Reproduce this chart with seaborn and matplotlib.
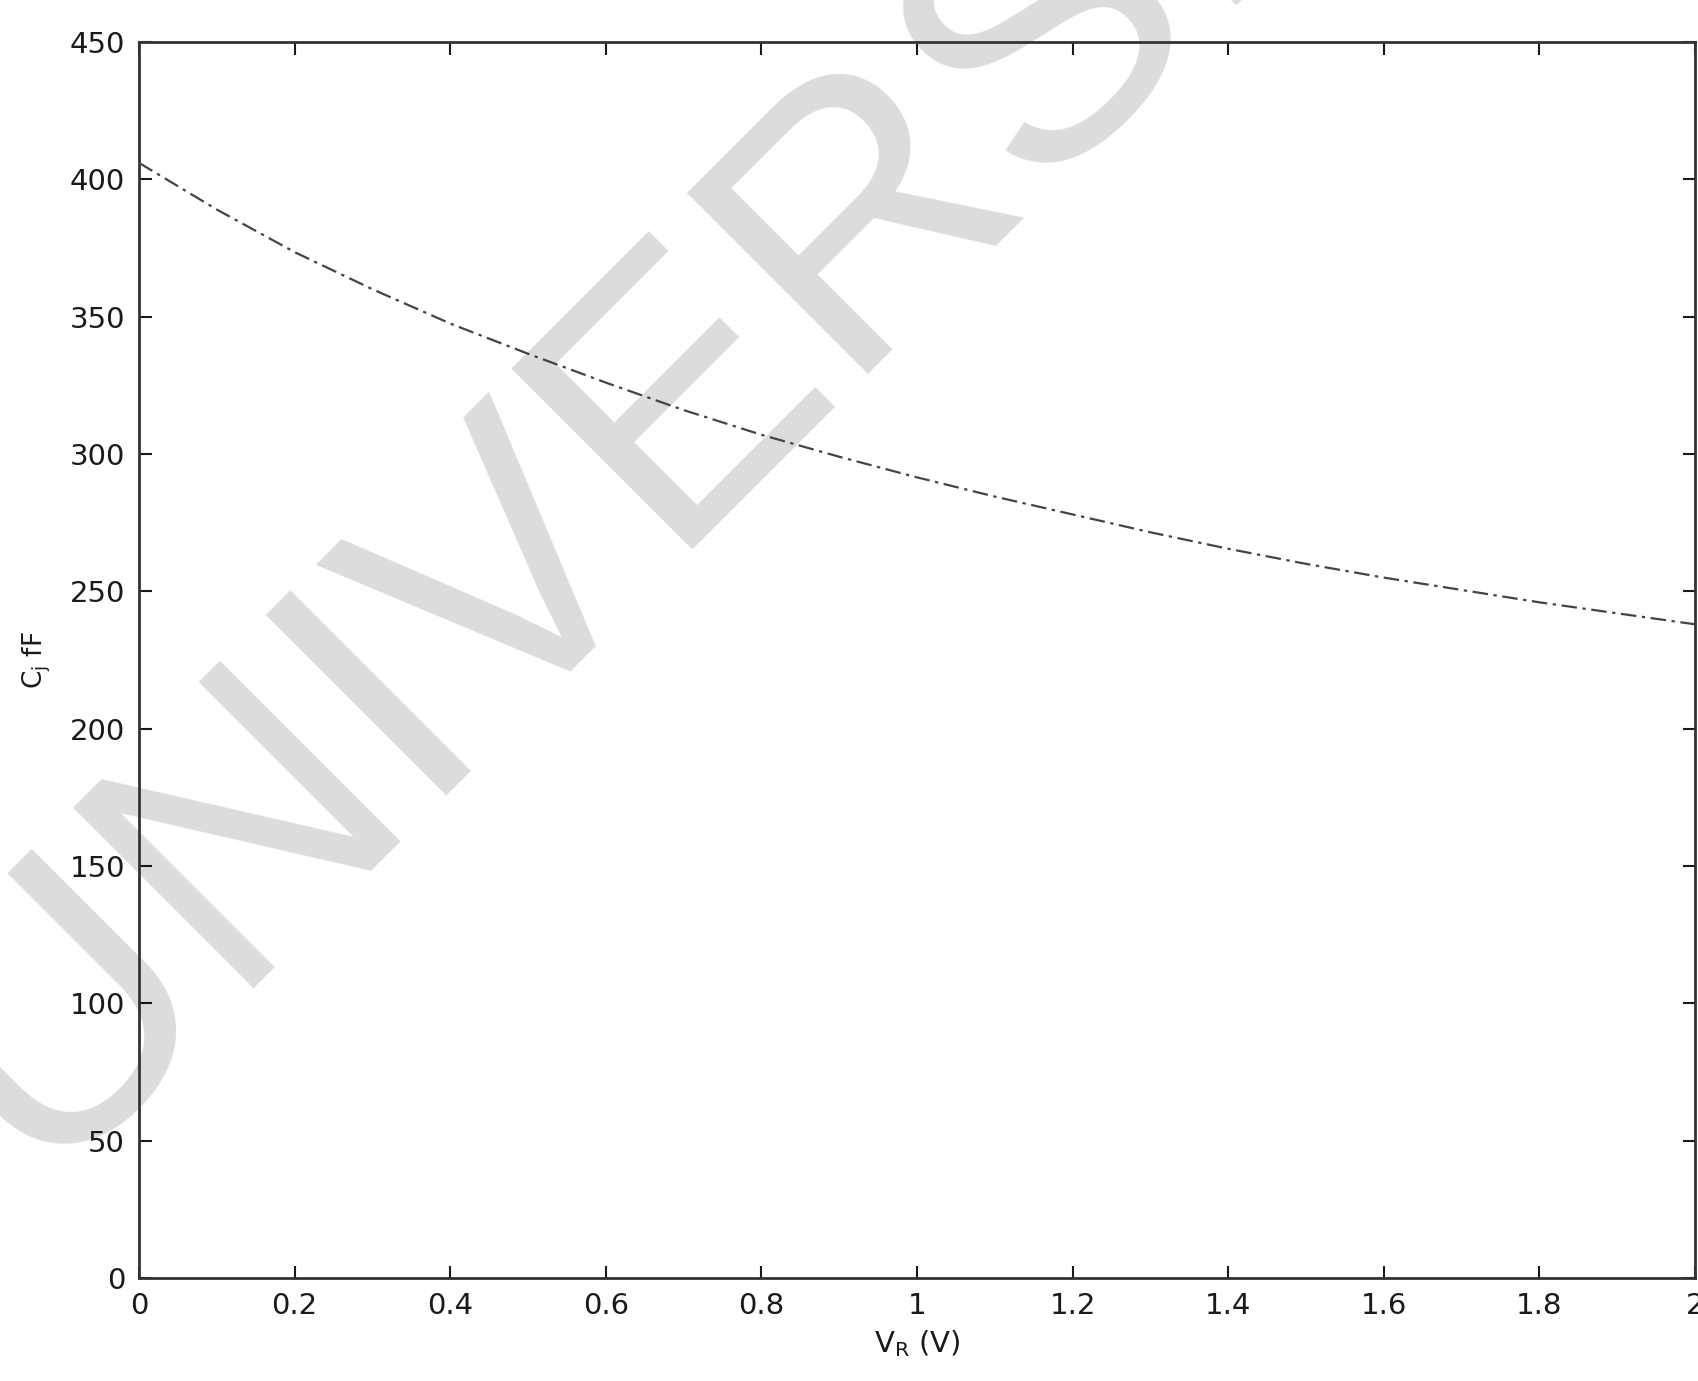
import numpy as np
import pandas as pd
import seaborn as sns
import matplotlib
matplotlib.use("Agg")
import matplotlib.pyplot as plt

# Data
vr = [0.0, 0.1, 0.2, 0.3, 0.4, 0.5, 0.6, 0.7, 0.8, 0.9, 1.0,
      1.1, 1.2, 1.3, 1.4, 1.5, 1.6, 1.7, 1.8, 1.9, 2.0]
cj = [406, 389, 373.5, 360, 347.5, 336.5, 326, 316, 307, 299, 291.5,
      284.5, 278, 271.5, 265.5, 260, 255, 250.5, 246, 242, 238]
x_ticks = [0, 0.2, 0.4, 0.6, 0.8, 1, 1.2, 1.4, 1.6, 1.8, 2]
x_tick_labels = ["0", "0.2", "0.4", "0.6", "0.8", "1", "1.2", "1.4", "1.6", "1.8", "2"]
y_ticks = [0, 50, 100, 150, 200, 250, 300, 350, 400, 450]

df = pd.DataFrame({"VR": vr, "Cj": cj})

sns.set_theme(style="ticks")
plt.rcParams['font.family'] = ['DejaVu Sans']

fig = plt.figure(figsize=(16.99, 13.81), dpi=100)
ax = fig.add_axes([139/1699, 1 - 1278/1381, (1695-139)/1699, (1278-42)/1381])
ax.set_facecolor('none')

# watermark (behind everything)
fig.text(0.020, 0.146, "UNIVERSITI", fontsize=268, color='#dcdcdc', rotation=45,
         rotation_mode='anchor', ha='left', va='baseline',
         family='Liberation Sans', zorder=-1)

sns.lineplot(data=df, x="VR", y="Cj", ax=ax, color='#444444', linewidth=1.6,
             zorder=3)
ax.lines[0].set_dashes([7, 2.5, 1.5, 2.5])

ax.set_xlim(0, 2)
ax.set_ylim(0, 450)
ax.set_xticks(x_ticks)
ax.set_xticklabels(x_tick_labels)
ax.set_yticks(y_ticks)
ax.tick_params(direction='in', length=9, width=1.5, top=True, right=True,
               labelsize=21, colors='#1a1a1a', pad=10)
for s in ax.spines.values():
    s.set_linewidth(2)
    s.set_color('#333333')
ax.set_xlabel(r"V$_\mathregular{R}$ (V)", fontsize=21, labelpad=6, color='#1a1a1a')
ax.set_ylabel(r"C$_\mathregular{j}$ fF", fontsize=19, labelpad=12, color='#1a1a1a')

fig.savefig("out.png", dpi=100)
